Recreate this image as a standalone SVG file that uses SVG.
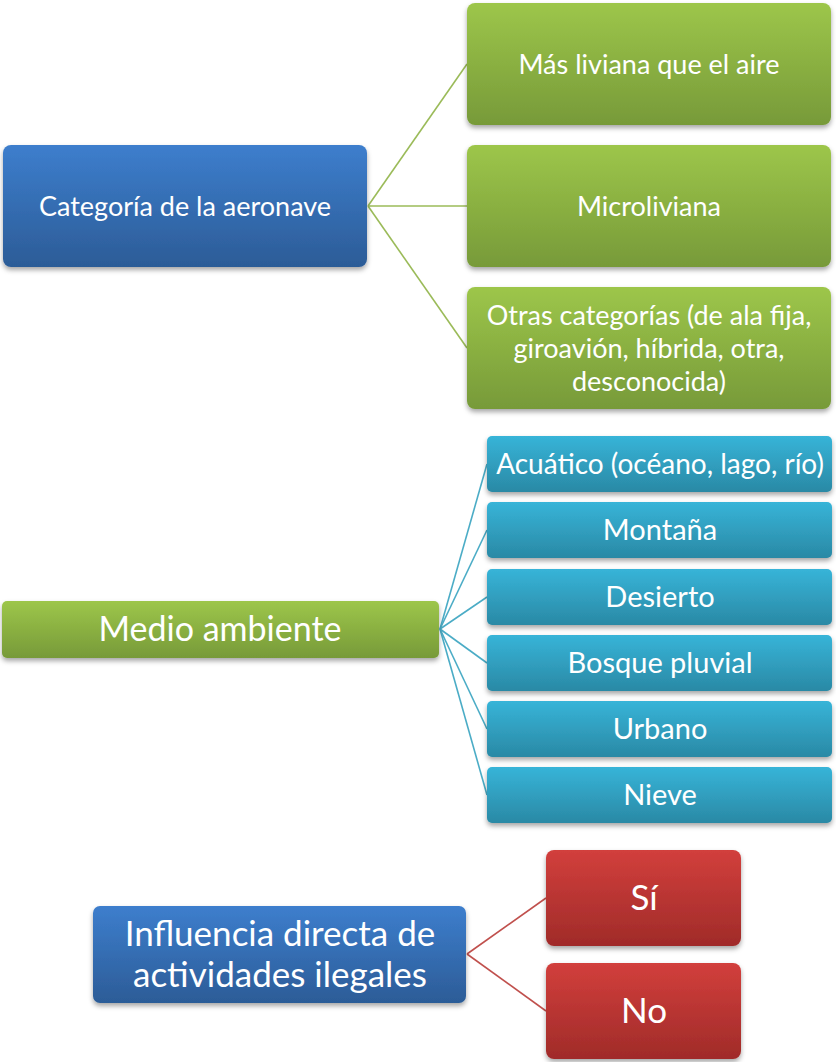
<svg xmlns="http://www.w3.org/2000/svg" width="836" height="1062" viewBox="0 0 836 1062">
<defs>
<linearGradient id="gBlue" x1="0" y1="0" x2="0" y2="1"><stop offset="0" stop-color="#3d7ecd"/><stop offset="1" stop-color="#2c5c97"/></linearGradient>
<linearGradient id="gGreen" x1="0" y1="0" x2="0" y2="1"><stop offset="0" stop-color="#9dc64a"/><stop offset="1" stop-color="#779a39"/></linearGradient>
<linearGradient id="gTeal" x1="0" y1="0" x2="0" y2="1"><stop offset="0" stop-color="#37b4d8"/><stop offset="1" stop-color="#2a89a5"/></linearGradient>
<linearGradient id="gRed" x1="0" y1="0" x2="0" y2="1"><stop offset="0" stop-color="#d23f3c"/><stop offset="1" stop-color="#a02b29"/></linearGradient>
<filter id="sh" x="-10%" y="-10%" width="120%" height="130%"><feDropShadow dx="0" dy="3" stdDeviation="2.5" flood-color="#000" flood-opacity="0.35"/></filter>
</defs>
<style>
text{font-family:Lato,"Open Sans","Liberation Sans",sans-serif;fill:#fff;text-anchor:middle}
.c line{stroke-width:1.6;fill:none}
.cg line{stroke:#9bbb59}
.ct line{stroke:#4bacc6}
.cr line{stroke:#c0504d}
rect{filter:url(#sh)}
.b{fill:url(#gBlue)}.g{fill:url(#gGreen)}.t{fill:url(#gTeal)}.r{fill:url(#gRed)}
.s27{font-size:27px}.s28{font-size:28px}.s30{font-size:29px}.s34{font-size:34px}.s35{font-size:35px}
</style>
<g id="connectors" class="c">
<g class="cg">
<line x1="368" y1="206" x2="467" y2="64"/>
<line x1="368" y1="206" x2="467" y2="206"/>
<line x1="368" y1="206" x2="467" y2="348"/>
</g>
<g class="ct">
<line x1="440" y1="629" x2="487" y2="464"/>
<line x1="440" y1="629" x2="487" y2="530"/>
<line x1="440" y1="629" x2="487" y2="597"/>
<line x1="440" y1="629" x2="487" y2="663"/>
<line x1="440" y1="629" x2="487" y2="729"/>
<line x1="440" y1="629" x2="487" y2="795"/>
</g>
<g class="cr">
<line x1="467" y1="954" x2="546" y2="898"/>
<line x1="467" y1="954" x2="546" y2="1011"/>
</g>
</g>
<g id="categoria"><rect class="b" x="3" y="145" width="364" height="122" rx="8"/><text class="s27" x="185" y="216">Categoría de la aeronave</text></g>
<g id="mas-liviana"><rect class="g" x="467" y="3" width="364" height="122" rx="8"/><text class="s27" x="649" y="74">Más liviana que el aire</text></g>
<g id="microliviana"><rect class="g" x="467" y="145" width="364" height="122" rx="8"/><text class="s27" x="649" y="216">Microliviana</text></g>
<g id="otras"><rect class="g" x="467" y="287" width="364" height="122" rx="8"/><text class="s27" x="649"><tspan x="649" y="325">Otras categorías (de ala fija,</tspan><tspan x="649" y="358">giroavión, híbrida, otra,</tspan><tspan x="649" y="391">desconocida)</tspan></text></g>
<g id="medio"><rect class="g" x="2" y="601" width="437" height="57" rx="5"/><text class="s34" x="220" y="641">Medio ambiente</text></g>
<g id="acuatico"><rect class="t" x="487" y="436" width="345" height="56" rx="5"/><text class="s28" x="660" y="474">Acuático (océano, lago, río)</text></g>
<g id="montana"><rect class="t" x="487" y="502" width="345" height="56" rx="5"/><text class="s30" x="660" y="540">Montaña</text></g>
<g id="desierto"><rect class="t" x="487" y="569" width="345" height="56" rx="5"/><text class="s30" x="660" y="607">Desierto</text></g>
<g id="bosque"><rect class="t" x="487" y="635" width="345" height="56" rx="5"/><text class="s30" x="660" y="673">Bosque pluvial</text></g>
<g id="urbano"><rect class="t" x="487" y="701" width="345" height="56" rx="5"/><text class="s30" x="660" y="739">Urbano</text></g>
<g id="nieve"><rect class="t" x="487" y="767" width="345" height="56" rx="5"/><text class="s30" x="660" y="805">Nieve</text></g>
<g id="influencia"><rect class="b" x="93" y="906" width="373" height="97" rx="7"/><text class="s35" x="280"><tspan x="280" y="946">Influencia directa de</tspan><tspan x="280" y="987">actividades ilegales</tspan></text></g>
<g id="si"><rect class="r" x="546" y="850" width="195" height="96" rx="8"/><text class="s35" x="644" y="910">Sí</text></g>
<g id="no"><rect class="r" x="546" y="963" width="195" height="96" rx="8"/><text class="s35" x="644" y="1023">No</text></g>
</svg>
